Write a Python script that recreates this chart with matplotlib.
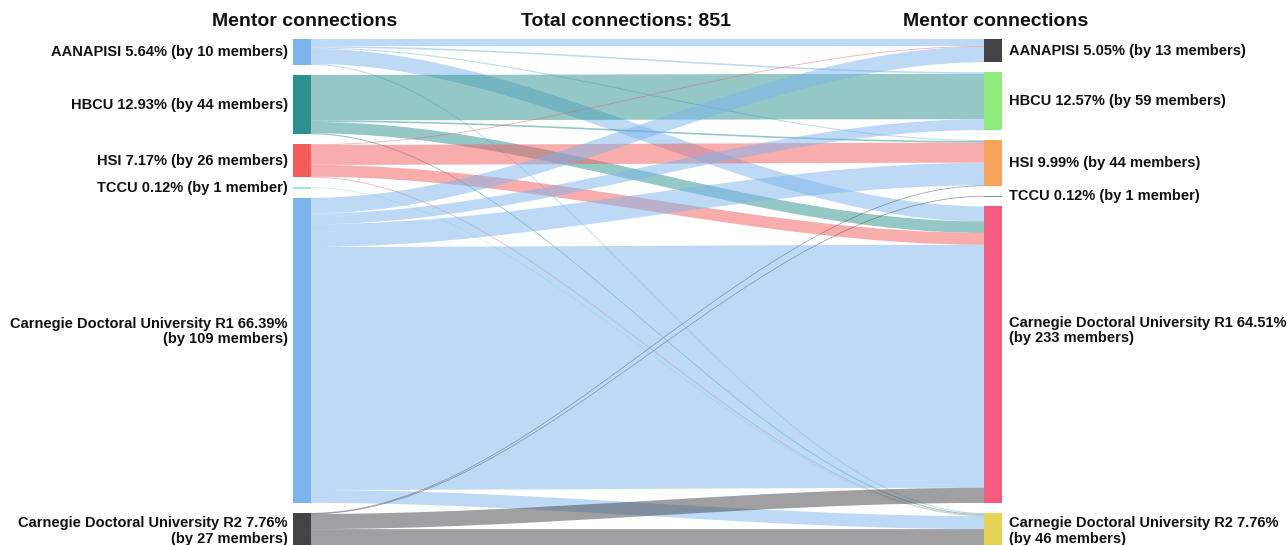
import numpy as np
import matplotlib
matplotlib.use('Agg')
import matplotlib.pyplot as plt
from matplotlib.path import Path
from matplotlib.patches import PathPatch, Rectangle

plt.rcParams['font.family'] = ['Liberation Sans', 'DejaVu Sans']

names = ['AANAPISI', 'HBCU', 'HSI', 'TCCU',
         'Carnegie Doctoral University R1', 'Carnegie Doctoral University R2']
left_members = [10, 44, 26, 1, 109, 27]
right_members = [13, 59, 44, 1, 233, 46]

# connections: rows = left (source), cols = right (target)
flows = np.array([
    [13, 3, 2, 0, 28, 2],
    [0, 84, 3, 0, 21, 2],
    [1, 0, 37, 0, 22, 1],
    [0, 0, 0, 0, 0, 1],
    [29, 20, 42, 0, 450, 24],
    [0, 0, 1, 1, 28, 36],
])

left_colors = ['#7cb5ec', '#2b908f', '#f45b5b', '#91e8e1', '#7cb5ec', '#434348']
right_colors = ['#434348', '#90ed7d', '#f7a35c', '#8085e9', '#f15c80', '#e4d354']

total = flows.sum()
left_tot = flows.sum(axis=1)
right_tot = flows.sum(axis=0)

# layout in pixels
top = 39
gap = 10
scale = 0.54
node_w = 18
x_left = 293
x_right = 984
curve = 0.33

fig = plt.figure(figsize=(12.87, 5.45), dpi=100)
ax = fig.add_axes([0, 0, 1, 1])
ax.set_xlim(0, 1287)
ax.set_ylim(545, 0)
ax.axis('off')


def node_positions(tots):
    ys = []
    y = top
    for t in tots:
        ys.append(y)
        y += t * scale + gap
    return ys


left_y = node_positions(left_tot)
right_y = node_positions(right_tot)

# links
out_off = list(left_y)
in_off = list(right_y)
x0 = x_left + node_w
x1 = x_right
cv = (x_right - x_left) * curve
for i in range(len(names)):
    for j in range(len(names)):
        v = flows[i, j]
        if v == 0:
            continue
        h = max(v * scale, 0.8)
        fy = out_off[i]
        ty = in_off[j]
        out_off[i] += v * scale
        in_off[j] += v * scale
        verts = [(x0, fy), (x0 + cv, fy), (x1 - cv, ty), (x1, ty),
                 (x1, ty + h),
                 (x1 - cv, ty + h), (x0 + cv, fy + h), (x0, fy + h),
                 (x0, fy)]
        codes = [Path.MOVETO, Path.CURVE4, Path.CURVE4, Path.CURVE4,
                 Path.LINETO,
                 Path.CURVE4, Path.CURVE4, Path.CURVE4,
                 Path.CLOSEPOLY]
        ax.add_patch(PathPatch(Path(verts, codes), facecolor=left_colors[i],
                               edgecolor='none', alpha=0.5, zorder=1))

# nodes
for i in range(len(names)):
    ax.add_patch(Rectangle((x_left, left_y[i]), node_w, max(left_tot[i] * scale, 1.5),
                           facecolor=left_colors[i], edgecolor='none', zorder=2))
    ax.add_patch(Rectangle((x_right, right_y[i]), node_w, max(right_tot[i] * scale, 1.5),
                           facecolor=right_colors[i], edgecolor='none', zorder=2))


def label(name, tot, members):
    pct = tot / total * 100
    by = 'member' if members == 1 else 'members'
    if name.startswith('Carnegie'):
        return f'{name} {pct:.2f}%\n(by {members} {by})'
    return f'{name} {pct:.2f}% (by {members} {by})'


fs = 10.5
for i in range(len(names)):
    yc = left_y[i] + left_tot[i] * scale / 2
    if i == 4:
        yc -= 19
    ax.text(x_left - 5, yc, label(names[i], left_tot[i], left_members[i]),
            ha='right', va='center', fontsize=fs, fontweight='bold',
            color='#111111', linespacing=1.15)
    yc = right_y[i] + right_tot[i] * scale / 2
    if i == 4:
        yc -= 24
    ax.text(x_right + node_w + 7, yc, label(names[i], right_tot[i], right_members[i]),
            ha='left', va='center', fontsize=fs, fontweight='bold',
            color='#111111', linespacing=1.15, multialignment='left')

ax.text(x_left + node_w / 2 + 3, 22, 'Mentor connections', ha='center', va='center',
        fontsize=14, fontweight='bold', color='#111111')
ax.text(x_right + node_w / 2 + 3, 22, 'Mentor connections', ha='center', va='center',
        fontsize=14, fontweight='bold', color='#111111')
ax.text(626, 21, f'Total connections: {total}', ha='center', va='center',
        fontsize=14, fontweight='bold', color='#111111')

fig.savefig('out.png', dpi=100)
